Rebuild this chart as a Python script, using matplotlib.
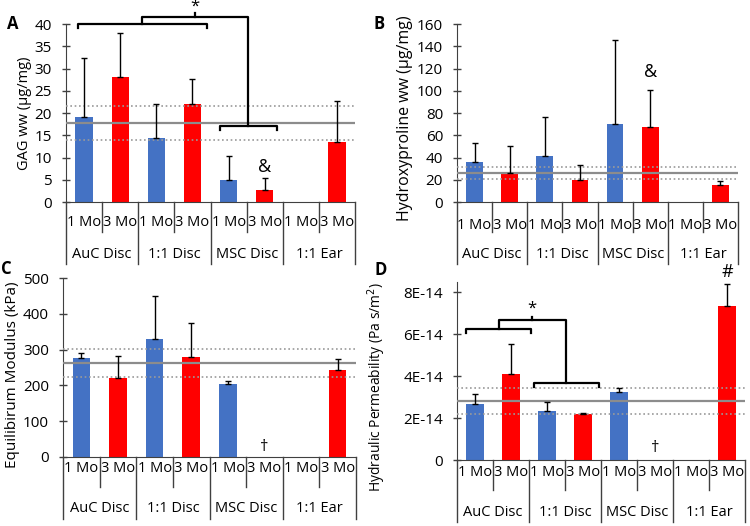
import matplotlib.pyplot as plt
import numpy as np
from matplotlib.transforms import blended_transform_factory

plt.rcParams['font.family'] = ['Open Sans', 'DejaVu Sans']
plt.rcParams['font.size'] = 10.5

groups = ['AuC Disc', '1:1 Disc', 'MSC Disc', '1:1 Ear']
months = ['1 Mo', '3 Mo']

# bar height and top of error bar for each slot (None = no bar)
gag_mean = [19.2, 28.0, 14.4, 22.0, 5.0, 2.6, None, 13.5]
gag_top = [32.4, 38.0, 22.1, 27.6, 10.4, 5.3, None, 22.8]
gag_ref = [17.8, 14.0, 21.6]  # reference mean, lower, upper

hyp_mean = [35.7, 25.8, 41.4, 20.0, 69.7, 67.2, None, 15.6]
hyp_top = [53.0, 50.0, 76.0, 33.6, 146.0, 100.6, None, 18.6]
hyp_ref = [26.1, 20.4, 31.5]

mod_mean = [276.6, 219.6, 331.0, 280.0, 202.8, None, None, 243.0]
mod_top = [290.7, 282.0, 451.0, 373.8, 213.0, None, None, 273.0]
mod_ref = [262.6, 222.4, 301.0]

perm_mean = [2.67e-14, 4.12e-14, 2.32e-14, 2.18e-14, 3.23e-14, None, None, 7.36e-14]
perm_top = [3.13e-14, 5.56e-14, 2.75e-14, 2.26e-14, 3.45e-14, None, None, 8.39e-14]
perm_ref = [2.80e-14, 2.18e-14, 3.43e-14]

W, H = 750, 526
fig = plt.figure(figsize=(7.5, 5.26), dpi=100)


def make_ax(l, r, t, b):
    return fig.add_axes([l / W, 1 - b / H, (r - l) / W, (b - t) / H])


def panel(ax, mean, top, ref, ylim, ylabel, lab_xy, lab_size, sub_off, h_px):
    x = np.arange(8)
    for i in x:
        if mean[i] is None:
            continue
        col = '#4472C4' if i % 2 == 0 else '#FF0000'
        ax.bar(i, mean[i], width=0.48, color=col, zorder=2)
        ax.errorbar(i, mean[i], yerr=[[0], [top[i] - mean[i]]], fmt='none',
                    ecolor='black', elinewidth=1, capsize=2, capthick=1, zorder=5)
    ax.axhline(ref[0], color='#8c8c8c', lw=1.6, zorder=4)
    for v in ref[1:]:
        ax.axhline(v, color='#9a9a9a', lw=1.2, ls=(0, (1, 1.6)), zorder=4)
    ax.set_xlim(-0.5, 7.5)
    ax.set_ylim(*ylim)
    for s in ['top', 'right']:
        ax.spines[s].set_visible(False)
    for s in ['left', 'bottom']:
        ax.spines[s].set_color('#404040')
    ax.tick_params(axis='x', bottom=False, labelbottom=False)
    ax.tick_params(axis='y', direction='inout', length=6, width=1, color='#404040',
                   labelsize=11, pad=7)
    ax.set_ylabel(ylabel, fontsize=lab_size)
    ax.yaxis.set_label_coords(*lab_xy)
    tr = blended_transform_factory(ax.transData, ax.transAxes)
    for k in range(9):
        depth = 62 if k % 2 == 0 else 30
        ax.plot([k - 0.5, k - 0.5], [0, -depth / h_px], color='#404040', lw=1,
                transform=tr, clip_on=False)
    for i in x:
        ax.text(i, -sub_off / h_px, months[i % 2], transform=tr, ha='center', va='center')
    for g, name in enumerate(groups):
        ax.text(2 * g + 0.5, -52 / h_px, name, transform=tr, ha='center', va='center')


def line(ax, xs, ys):
    ax.plot(xs, ys, color='black', lw=1.6, clip_on=False, zorder=6)


axA = make_ax(66, 355, 24, 202)
panel(axA, gag_mean, gag_top, gag_ref, (0, 40), 'GAG ww (µg/mg)', (-0.118, 0.5), 10.5, 20, 178)
axA.set_yticks(np.arange(0, 41, 5))
line(axA, [-0.17, -0.17, 3.4, 3.4], [39.2, 40, 40, 39.2])
line(axA, [1.6, 1.6, 4.54, 4.54], [40, 41.6, 41.6, 17.1])
line(axA, [3.77, 3.77, 5.34, 5.34], [16.2, 17.1, 17.1, 16.2])
line(axA, [3.07, 3.07], [41.6, 42.4])
axA.text(3.07, 43.8, '*', ha='center', va='center', fontsize=12)
axA.text(5, 7.9, '&', ha='center', va='center', fontsize=13)

axB = make_ax(457, 738, 24, 202)
panel(axB, hyp_mean, hyp_top, hyp_ref, (0, 160), 'Hydroxyproline ww (µg/mg)', (-0.157, 0.47), 11.5, 23, 178)
axB.set_yticks(np.arange(0, 161, 20))
axB.text(5, 117, '&', ha='center', va='center', fontsize=13)

axC = make_ax(63, 356, 278, 457)
panel(axC, mod_mean, mod_top, mod_ref, (0, 500), 'Equilibirum Modulus (kPa)', (-0.147, 0.46), 11, 11, 179)
axC.set_yticks(np.arange(0, 501, 100))
axC.text(5, 28, '†', ha='center', va='center', fontsize=12)

axD = make_ax(457, 745, 282, 460)
panel(axD, perm_mean, perm_top, perm_ref, (0, 8.5e-14), 'Hydraulic Permeability (Pa s/m$^2$)',
      (-0.24, 0.41), 10, 12, 178)
axD.set_yticks([0, 2e-14, 4e-14, 6e-14, 8e-14])
axD.set_yticklabels(['0', '2E-14', '4E-14', '6E-14', '8E-14'])
line(axD, [-0.25, -0.25, 1.56, 1.56], [6.07e-14, 6.25e-14, 6.25e-14, 6.07e-14])
line(axD, [0.68, 0.68, 2.54, 2.54], [6.25e-14, 6.68e-14, 6.68e-14, 3.69e-14])
line(axD, [1.63, 1.63, 3.44, 3.44], [3.5e-14, 3.69e-14, 3.69e-14, 3.5e-14])
line(axD, [1.58, 1.58], [6.68e-14, 6.85e-14])
axD.text(1.58, 7.25e-14, '*', ha='center', va='center', fontsize=12)
axD.text(5, 0.56e-14, '†', ha='center', va='center', fontsize=12)
axD.text(7, 8.98e-14, '#', ha='center', va='center', fontsize=13, clip_on=False)

for lab, (px, py) in zip('ABCD', [(13, 24), (379, 24), (6, 269), (381, 270)]):
    fig.text(px / W, 1 - py / H, lab, ha='center', va='center', fontsize=12, fontweight='bold')

fig.savefig('out.png', dpi=100)
